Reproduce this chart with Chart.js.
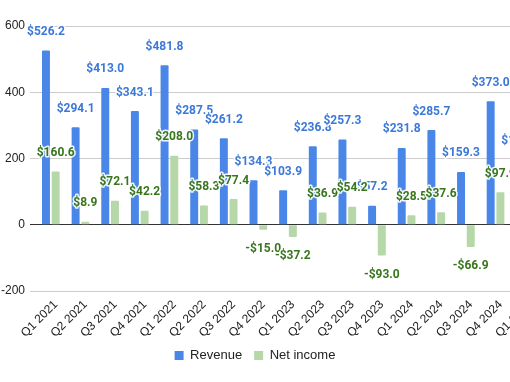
<!DOCTYPE html>
<html>
<head>
<meta charset="utf-8">
<script src="https://cdn.jsdelivr.net/npm/chart.js@4/dist/chart.umd.min.js"></script>
<style>
html,body{margin:0;padding:0;background:#fff;overflow:hidden;width:510px;height:382px;}
#wrap{position:relative;width:545px;height:382px;}
</style>
</head>
<body>
<div id="wrap"><canvas id="c" width="545" height="382"></canvas></div>
<script>
const categories = ["Q1 2021","Q2 2021","Q3 2021","Q4 2021","Q1 2022","Q2 2022","Q3 2022","Q4 2022","Q1 2023","Q2 2023","Q3 2023","Q4 2023","Q1 2024","Q2 2024","Q3 2024","Q4 2024","Q1 2025"];
const revenue = [526.2,294.1,413.0,343.1,481.8,287.5,261.2,134.3,103.9,236.8,257.3,57.2,231.8,285.7,159.3,373.0,198.0];
const netIncome = [160.6,8.9,72.1,42.2,208.0,58.3,77.4,-15.0,-37.2,36.9,54.2,-93.0,28.5,37.6,-66.9,97.9,null];
const yTicks = [-200,0,200,400,600];

const labelPlugin = {
  id: 'valueLabels',
  afterDatasetsDraw(chart) {
    const ctx = chart.ctx;
    ctx.save();
    ctx.font = 'bold 12px Roboto, Arial, sans-serif';
    ctx.textAlign = 'center';
    ctx.textBaseline = 'middle';
    ctx.lineJoin = 'round';
    chart.data.datasets.forEach((ds, di) => {
      const meta = chart.getDatasetMeta(di);
      meta.data.forEach((bar, i) => {
        const v = ds.data[i];
        if (v === null || v === undefined) return;
        const txt = (v < 0 ? '-$' : '$') + Math.abs(v).toFixed(1);
        const y = v >= 0 ? bar.y - 18.5 : bar.y + 19;
        ctx.strokeStyle = 'rgba(255,255,255,0.9)';
        ctx.lineWidth = 3;
        ctx.strokeText(txt, bar.x, y);
        ctx.fillStyle = ds.labelColor;
        ctx.fillText(txt, bar.x, y);
      });
    });
    ctx.restore();
  }
};

const legendShift = {
  id: 'legendShift',
  beforeDraw(chart) {
    const lg = chart.legend;
    if (lg) { lg.left = 0; lg.right = 510; lg.width = 510; }
  }
};

new Chart(document.getElementById('c'), {
  type: 'bar',
  data: {
    labels: categories,
    datasets: [
      { label: 'Revenue', data: revenue, backgroundColor: '#4a86e8', labelColor: '#3c78d8',
        categoryPercentage: 0.655, barPercentage: 0.82, borderRadius: 1 },
      { label: 'Net income', data: netIncome, backgroundColor: '#b6d7a8', labelColor: '#38761d',
        categoryPercentage: 0.655, barPercentage: 0.82, borderRadius: 1 }
    ]
  },
  options: {
    responsive: false,
    animation: false,
    layout: { padding: { top: 26, right: 5, left: 0, bottom: 10 } },
    plugins: {
      legend: {
        position: 'bottom',
        labels: { boxWidth: 9, boxHeight: 9, padding: 12, color: '#222',
          font: { family: 'Liberation Sans, Arial, sans-serif', size: 13 } }
      },
      tooltip: { enabled: false }
    },
    scales: {
      x: {
        grid: { display: false },
        border: { display: false },
        ticks: { color: '#222', minRotation: 45, maxRotation: 45, autoSkip: false, padding: -1.5, labelOffset: 5,
          font: { family: 'Liberation Sans, Arial, sans-serif', size: 12 } },
        afterFit(s) { s.height = 46; }
      },
      y: {
        min: yTicks[0], max: yTicks[yTicks.length - 1],
        afterBuildTicks(s) { s.ticks = yTicks.map(v => ({ value: v })); },
        grid: { color: c => c.tick && c.tick.value === 0 ? '#333333' : '#cccccc', lineWidth: 1,
          drawTicks: true, tickLength: 6 },
        border: { display: false },
        ticks: { color: '#222', padding: 5, font: { family: 'Liberation Sans, Arial, sans-serif', size: 12 } },
        afterFit(s) { s.width = 36; }
      }
    }
  },
  plugins: [labelPlugin, legendShift]
});
</script>
</body>
</html>
